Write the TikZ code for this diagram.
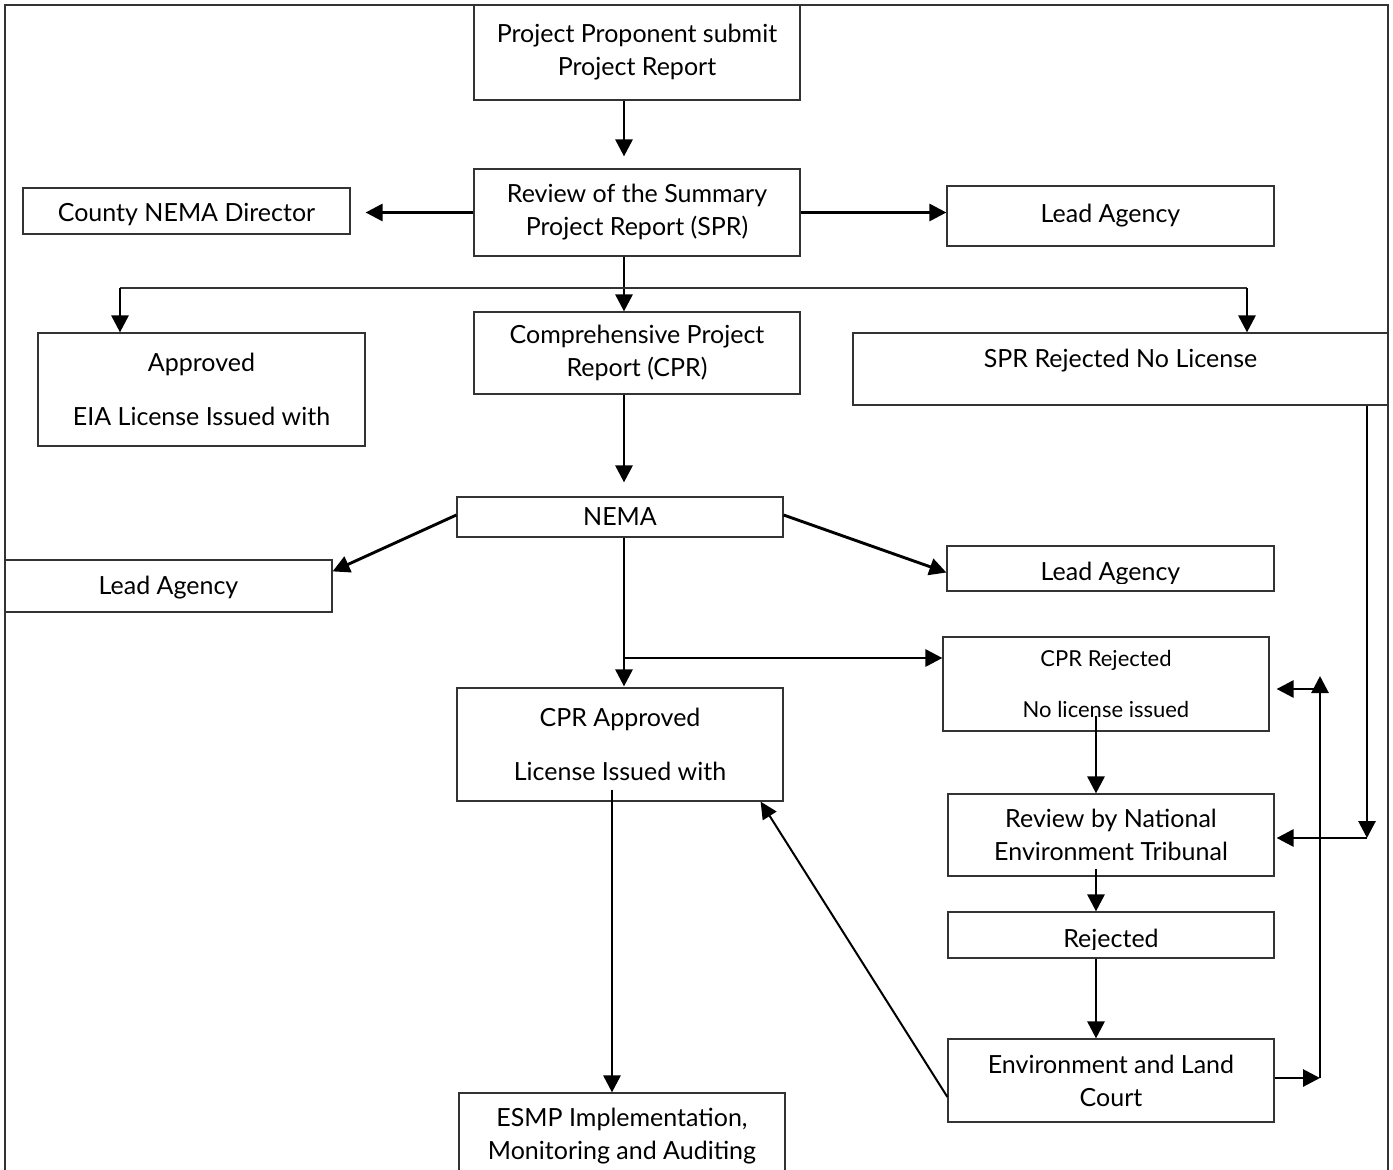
\documentclass[tikz,border=0pt]{standalone}
\usepackage{fontspec}
\setmainfont{Lato}
\usetikzlibrary{arrows.meta}
\begin{document}
\begin{tikzpicture}[x=1pt,y=-1pt,
  box/.style={draw=black!80,line width=1.2pt,rectangle,inner sep=0pt,align=center,
    font=\fontsize{25}{33}\selectfont},
  txt/.style={inner sep=0pt,align=center,font=\fontsize{25}{33}\selectfont},
  arr/.style={line width=2.9pt,-{Triangle[length=17pt,width=17pt]}},
  thinarr/.style={line width=2pt,-{Triangle[length=17pt,width=16pt]}},
  thinline/.style={draw=black!80,line width=1.2pt}]
\useasboundingbox (0,0) rectangle (1393,1170);
\draw[thinline] (5,1180) -- (5,5) -- (1388,5) -- (1388,1180);

% boxes
\node[box,minimum width=326pt,minimum height=95pt] (P) at (637,52.5) {Project Proponent submit\\Project Report};
\node[box,minimum width=326pt,minimum height=87pt] (SPR) at (637,212.5) {Review of the Summary\\Project Report (SPR)};
\node[box,minimum width=327pt,minimum height=46pt] (CND) at (186.5,211) {};
\node[txt] (CNDt) at (186.5,215) {County NEMA Director};
\node[box,minimum width=327pt,minimum height=60pt] (LA1) at (1110.5,216) {Lead Agency};
\node[box,minimum width=327pt,minimum height=113pt] (APP) at (201.5,389.5) {Approved\\[21pt]EIA License Issued with};
\node[box,minimum width=326pt,minimum height=82pt] (CPR) at (637,353) {Comprehensive Project\\Report (CPR)};
\node[box,minimum width=535pt,minimum height=72pt] (SPRR) at (1120.5,369) {};
\node[txt] (SPRRt) at (1120.5,361) {SPR Rejected No License};
\node[box,minimum width=326pt,minimum height=40pt] (NEMA) at (620,517) {NEMA};
\node[box,minimum width=327pt,minimum height=52pt] (LA2) at (168.5,586) {};
\node[txt] (LA2t) at (168.5,588) {Lead Agency};
\node[box,minimum width=327pt,minimum height=45pt] (LA3) at (1110.5,568.5) {};
\begin{scope}
\clip (947,540) rectangle (1274,583);
\node[txt,anchor=base] (LA3t) at (1110.5,580) {Lead Agency};
\end{scope}
\node[box,minimum width=326pt,minimum height=94pt,font=\fontsize{22}{28}\selectfont] (CPRR) at (1106,684) {CPR Rejected\\[23pt]No license issued};
\node[box,minimum width=326pt,minimum height=113pt] (CPRA) at (620,744.5) {CPR Approved\\[21pt]License Issued with};
\node[box,minimum width=326pt,minimum height=82pt] (NET) at (1111,835) {Review by National\\Environment Tribunal};
\node[box,minimum width=326pt,minimum height=46pt] (REJ) at (1111,935) {};
\begin{scope}
\clip (948,912) rectangle (1274,949);
\node[txt,anchor=base] (REJt) at (1111,947) {Rejected};
\end{scope}
\node[box,minimum width=326pt,minimum height=83pt] (ELC) at (1111,1080.5) {Environment and Land\\Court};
\node[box,minimum width=326pt,minimum height=86pt] (ESMP) at (622,1136) {ESMP Implementation,\\Monitoring and Auditing};

% coordinates
\coordinate (brL) at (120,288);
\coordinate (brR) at (1247,288);
\coordinate (nb) at (624,658);
\coordinate (r1) at (1320,1078);
\coordinate (r2) at (1320,689);
\coordinate (s1) at (1367,838);

% connectors
\draw[arr,shorten >=12pt] ([xshift=-13pt]P.south) -- ([xshift=-13pt]SPR.north);
\draw[arr,shorten >=15pt] (SPR.west) -- (SPR.west -| CND.east);
\draw[arr] (SPR.east) -- (SPR.east -| LA1.west);
\draw[arr] ([xshift=-13pt]SPR.south) -- ([xshift=-13pt]CPR.north);
\draw[thinline] (brL) -- (brR);
\draw[arr] (brL) -- (brL |- APP.north);
\draw[arr] (brR) -- (brR |- SPRR.north);
\draw[arr,shorten >=14pt] ([xshift=-13pt]CPR.south) -- ([xshift=4pt]NEMA.north);
\draw[arr] ([yshift=2pt]NEMA.west) -- ([yshift=-12pt]LA2.north east);
\draw[arr] ([yshift=2pt]NEMA.east) -- ([yshift=-4pt]LA3.west);
\draw[arr,shorten >=1pt] ([xshift=4pt]NEMA.south) -- ([xshift=4pt]CPRA.north);
\draw[arr] (nb) -- (nb -| CPRR.west);
\draw[arr] ([xshift=-8pt,yshift=12pt]CPRA.south) -- ([xshift=-10pt]ESMP.north);
\draw[arr] ([xshift=-10pt,yshift=16pt]CPRR.south) -- ([xshift=-15pt]NET.north);
\draw[arr] ([xshift=-15pt,yshift=8pt]NET.south) -- ([xshift=-15pt]REJ.north);
\draw[arr] ([xshift=-15pt]REJ.south) -- ([xshift=-15pt]ELC.north);
\draw[thinarr] ([yshift=-16.5pt]ELC.west) -- ([xshift=-23pt]CPRA.south east);
\draw[arr] (r1 -| ELC.east) -- (r1);
\draw[arr] (r1) -- (1320,676);
\draw[arr,shorten >=7pt] (r2) -- (r2 -| CPRR.east);
\draw[arr] (s1 |- SPRR.south) -- (s1);
\draw[arr,shorten >=2pt] (s1) -- (s1 -| NET.east);
\end{tikzpicture}
\end{document}
